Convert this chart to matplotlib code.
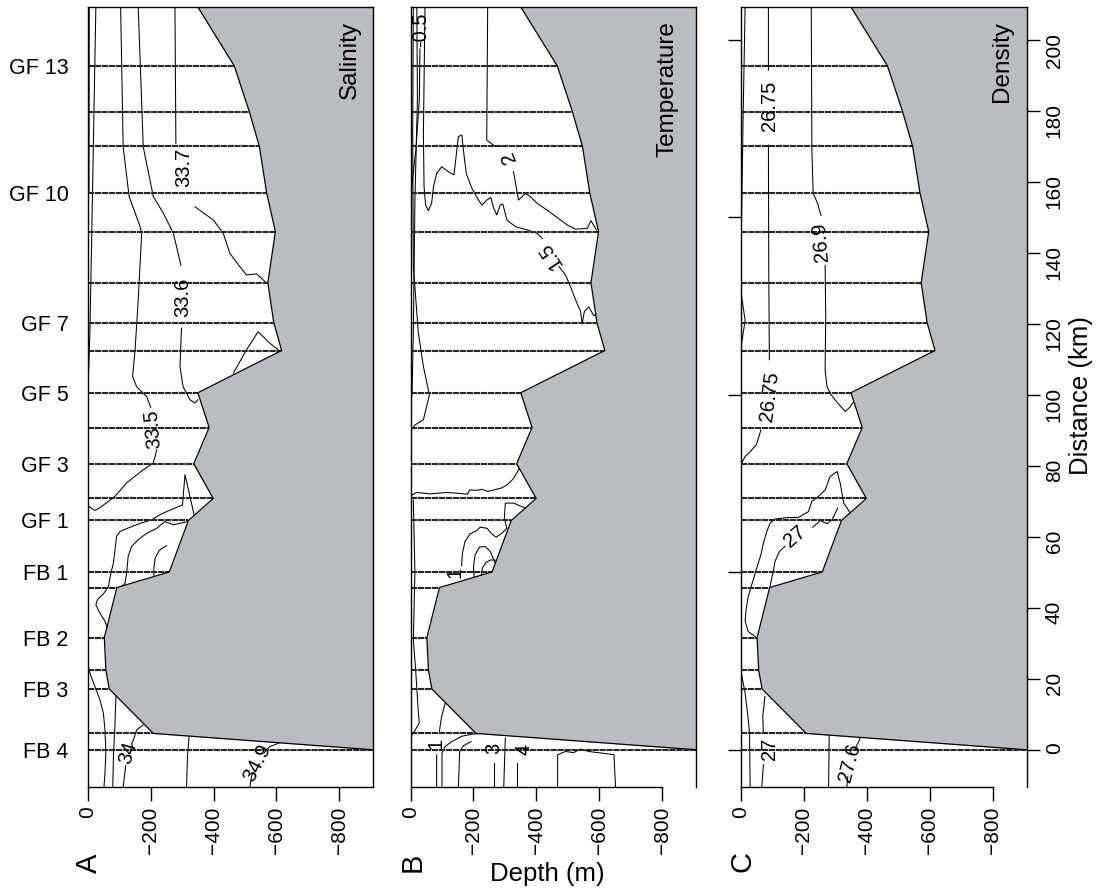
import numpy as np
import matplotlib.pyplot as plt

plt.rcParams['font.family'] = ['Liberation Sans', 'DejaVu Sans']
nan = np.nan

# bottom profile along the section (distance km, depth m)
bathy_dist = [209.3, 192.7, 179.8, 170.0, 157.0, 146.0, 131.6, 120.3, 112.5, 100.6,
              90.8, 80.6, 70.8, 64.6, 50.1, 45.7, 31.6, 22.4, 17.1, 4.6, 0.0]
bathy_depth = [-350, -466, -514, -546, -569, -597, -573, -592, -617, -350,
               -386, -337, -399, -320, -259, -92, -52, -57, -68, -208, -907]
stations = bathy_dist[1:]

station_names = ['GF 13', 'GF 10', 'GF 7', 'GF 5', 'GF 3', 'GF 1', 'FB 1', 'FB 2', 'FB 3', 'FB 4']
station_name_dist = [192.7, 157.0, 120.3, 100.6, 80.6, 64.6, 50.1, 31.6, 17.1, 0.0]

depth_ticks = [0, -200, -400, -600, -800]
dist_ticks = list(range(0, 201, 20))
dist_ticks_left = [0, 50, 100, 150, 200]

# ---- salinity isolines (depth, distance) ----
sal_surf_x = [-25, -12, -6, -1]
sal_surf_y = [209.2, 145.5, 117.4, 104.2]
sal_edge_x = [-4, -3]
sal_edge_y = [209.3, 157.0]
sal_335_x = [-104, -112, -131, -166, -171, -160, -150, -142, -155, -187, -200, nan,
             -219, -208, -176, -123, -86, -38, -22, -4, 0]
sal_335_y = [209.3, 169.9, 155.9, 147.4, 145.6, 126.8, 112.7, 105.2, 102.3, 99.5, 96.5, nan,
             84.5, 80.8, 78.9, 75.2, 71.4, 68.2, 67.4, 68.5, 69.0]
sal_336_x = [-160, -176, -208, -240, -272, -282, -296, nan, -298, -293, -303, -325, -341, -350]
sal_336_y = [209.3, 169.9, 155.9, 151.2, 145.5, 141.8, 136.5, nan, 118.8, 108.0, 102.3, 98.6, 97.7, 98.6]
sal_337_x = [-277, -280, nan, -341, -399, -431, -452, -484, -505, -537, -558, -569]
sal_337_y = [209.3, 170.9, nan, 153.0, 149.3, 145.5, 139.9, 136.1, 133.8, 134.1, 132.4, 131.5]
sal_gf7_x = [-463, -505, -542, -558, -579, -606]
sal_gf7_y = [106.1, 112.7, 117.8, 116.4, 114.6, 112.7]
sal_gf2_x = [-338, -309, -301, -277, -250, -229, -203, -166, -134, -102, -91, -86, -81,
             -73, -65, -49, -30, -25, -38, -54, -62]
sal_gf2_y = [66.2, 77.5, 69.0, 68.1, 67.1, 66.2, 64.8, 63.8, 62.7, 61.5, 60.1, 56.3, 52.6,
             49.8, 46.0, 43.9, 42.3, 40.8, 38.5, 36.2, 34.3]
sal_gf1_x = [-318, -272, -245, -219, -187, -160, -139, -128, -123, -118, -102]
sal_gf1_y = [64.3, 63.4, 64.3, 62.4, 61.0, 59.2, 57.3, 54.5, 49.8, 46.9, 45.5]
sal_fb1_x = [-250, -227, -214, -210, -210]
sal_fb1_y = [57.5, 56.2, 54.0, 51.2, 48.8]
sal_fb3_x = [-1, -6, -22, -38, -49, -54, -57, -54, -51]
sal_fb3_y = [23.5, 21.6, 17.8, 14.1, 10.3, 5.6, -0.5, -6.6, -10.5]
sal_fb4_x = [-89, -86, -81, -79]
sal_fb4_y = [15.0, 7.5, -1.9, -10.5]
sal_34_x = [-176, -155, -147, -138, nan, -120, -118, -112]
sal_34_y = [7.0, 5.6, 3.3, 1.5, nan, -4.5, -6.1, -10.5]
sal_deep_x = [-322, -317, -314]
sal_deep_y = [3.8, -1.9, -10.5]
sal_349_x = [-611, -579, -569, -560, nan, -525, -521, -516]
sal_349_y = [1.95, 0.9, 0.0, -1.0, nan, -6.5, -7.5, -10.5]

sal_labels = ['33.7', '33.6', '33.5', '34', '34.9']
sal_label_x = [-306, -302, -206, -126, -539]
sal_label_y = [164.2, 127.6, 90.5, -0.9, -3.6]
sal_label_rot = [90, 90, 95, 74, 63]

# ---- temperature isolines ----
tmp_2_x = [-245, -242, -269, -290, nan, -327, -343, -365, -380, -402, -433, -476, -497,
           -524, -561, -573, -590]
tmp_2_y = [209.3, 171.8, 170.0, 170.0, nan, 162.9, 154.9, 156.8, 155.9, 154.0, 152.1, 149.3,
           147.9, 146.7, 146.9, 149.1, 146.5]
tmp_15_x = [-46, -41, -43, -48, -57, -67, -73, -83, -99, -120, -138, -152, -163, -168, -177,
            -195, -216, -227, -242, -255, -264, -274, -285, -293, -306, -333, -370, -402, -418,
            nan, -471, -492, -508, -524, -540, -545, -552, -566, -582, -590]
tmp_15_y = [209.3, 173.7, 158.7, 153.5, 151.9, 154.0, 158.7, 162.4, 164.3, 162.9, 162.0,
            172.8, 173.2, 169.0, 162.4, 158.2, 154.9, 153.5, 154.9, 155.6, 152.6, 150.7,
            153.5, 153.8, 149.3, 147.4, 146.5, 145.5, 144.1,
            nan, 136.2, 133.8, 130.5, 126.8, 123.5, 120.0, 123.5, 124.8, 122.3, 122.8]
tmp_s1_x = [-9, -7, -9, -25, -41, -60, -41, -14, -2]
tmp_s1_y = [209.3, 173.7, 136.2, 117.4, 108.0, 100.0, 93.0, 91.5, 90.1]
tmp_s2_x = [-20, -22, -14, -9, -5, 0]
tmp_s2_y = [209.3, 183.1, 154.9, 117.4, 100.5, 95.8]
tmp_s3_x = [-30, -28, -17, -4, 0]
tmp_s3_y = [197.5, 183.1, 169.0, 158.7, 153.0]
tmp_gf2_x = [-4, -20, -62, -115, -147, -181, -187, -211, -227, -245, -264, -287, -306,
             -325, -340, -345]
tmp_gf2_y = [71.8, 72.5, 72.1, 72.5, 72.3, 72.0, 73.2, 73.1, 73.4, 72.8, 73.2, 73.7, 74.6,
             76.2, 78.4, 79.3]
tmp_s4_x = [-9, -14, -9, -17, -25, -28, -9, -2]
tmp_s4_y = [70.4, 49.8, 31.0, 21.6, 10.3, 7.5, 4.7, 3.8]
tmp_1_x = [-365, -327, -301, -298, -306, -290, -272, -258, -243, -221, -211, -189, -173,
           -165, -162]
tmp_1_y = [68.1, 69.5, 69.5, 65.3, 62.4, 61.0, 59.9, 60.8, 62.4, 62.7, 61.8, 60.8, 58.7,
           55.4, 51.8]
tmp_fb1a_x = [-269, -253, -237, -219, -205, -200, -202]
tmp_fb1a_y = [52.6, 55.9, 57.3, 57.1, 54.9, 51.6, 48.6]
tmp_fb1b_x = [-271, -255, -240, -228, -225]
tmp_fb1b_y = [53.4, 53.5, 52.8, 51.2, 49.2]
tmp_fb4a_x = [-110, -99, -94, -92, nan, -83, -83]
tmp_fb4a_y = [13.1, 9.4, 6.6, 5.2, nan, -1.4, -10.5]
tmp_fb4b_x = [-215, -195, -163, -131, -110, -100, -100]
tmp_fb4b_y = [4.5, 4.4, 3.8, 2.3, 0.9, -0.9, -10.5]
tmp_fb4c_x = [-192, -168, -156, -152]
tmp_fb4c_y = [2.3, 1.1, -0.5, -10.5]
tmp_3_x = [-266, -266]
tmp_3_y = [-3.8, -10.5]
tmp_fb4d_x = [-301, -296]
tmp_fb4d_y = [3.3, -10.5]
tmp_4_x = [-338, -338]
tmp_4_y = [-3.8, -10.5]
tmp_box_x = [-467, -467, -492, -518, -540, -566, -603, -646, -651]
tmp_box_y = [-10.5, -1.4, -0.5, -0.8, 0.2, -0.5, -0.9, -1.4, -10.5]

tmp_labels = ['-0.5', '2', '1.5', '1', '1', '3', '4']
tmp_label_x = [-33, -311, -444, -142, -80, -264, -359]
tmp_label_y = [202.8, 167.1, 139.4, 50.1, 1.7, 0.5, 0.0]
tmp_label_rot = [90, 112, 123, 90, 90, 90, 90]

# ---- density isolines ----
den_s1_x = [-14, -8, 0]
den_s1_y = [209.3, 180.0, 133.2]
den_s2_x = [0, -14, 0]
den_s2_y = [129.6, 121.0, 112.7]
den_2675_x = [-88, -88, nan, -88, -89, -91, nan, -64, -50, -30, -14, -3, 0]
den_2675_y = [209.3, 191.5, nan, 170.4, 136.2, 109.9, nan, 90.1, 86.0, 84.0, 82.6, 80.8, 80.3]
den_269_x = [-224, -226, -230, -244, -255, nan, -268, -270, -268, -274, -287, -308, -332,
             -346, -359]
den_269_y = [209.3, 169.0, 156.8, 154.0, 150.5, nan, 136.5, 122.1, 107.0, 102.3, 100.0,
             97.7, 95.3, 96.5, 98.1]
den_27a_x = [-348, -327, -316, -306, -284, -268, -247, -226, -215, -184, -146, -109, -93,
             -83, -72, -64, -51, -38, -24, -17, -14, -24, -46]
den_27a_y = [66.7, 69.5, 75.1, 78.4, 77.0, 73.2, 71.4, 70.0, 67.1, 65.5, 65.4, 65.0, 63.8,
             61.5, 58.2, 54.9, 51.2, 47.4, 43.2, 39.4, 36.2, 33.3, 31.9]
den_27b_x = [-308, -290, -274, -253, -229, nan, -141, -123, -109, -102, -93]
den_27b_y = [68.1, 64.8, 63.7, 64.6, 62.7, nan, 57.3, 55.9, 53.1, 49.8, 46.0]
den_fb3_x = [0, -14, -24, -28, -30]
den_fb3_y = [22.5, 16.0, 8.5, 4.7, -10.5]
den_27c_x = [-77, -70, -72, nan, -72, -67]
den_27c_y = [15.0, 9.4, 4.7, nan, -4.2, -10.5]
den_276a_x = [-281, -279]
den_276a_y = [4.1, -10.5]
den_276b_x = [-380, -375, -364, nan, -340, -337]
den_276b_y = [3.45, 2.3, 0.5, nan, -7.5, -10.5]

den_labels = ['26.75', '26.75', '26.9', '27', '27', '27.6']
den_label_x = [-91, -93, -255, -173, -91, -346]
den_label_y = [181.4, 99.5, 143.0, 60.1, 0.2, -3.6]
den_label_rot = [90, 83, 95, 40, 90, 75]

sal_lines = [(sal_surf_x, sal_surf_y), (sal_edge_x, sal_edge_y), (sal_335_x, sal_335_y),
             (sal_336_x, sal_336_y), (sal_337_x, sal_337_y), (sal_gf7_x, sal_gf7_y),
             (sal_gf2_x, sal_gf2_y), (sal_gf1_x, sal_gf1_y), (sal_fb1_x, sal_fb1_y),
             (sal_fb3_x, sal_fb3_y), (sal_fb4_x, sal_fb4_y), (sal_34_x, sal_34_y),
             (sal_deep_x, sal_deep_y), (sal_349_x, sal_349_y)]
tmp_lines = [(tmp_2_x, tmp_2_y), (tmp_15_x, tmp_15_y), (tmp_s1_x, tmp_s1_y),
             (tmp_s2_x, tmp_s2_y), (tmp_s3_x, tmp_s3_y), (tmp_gf2_x, tmp_gf2_y),
             (tmp_s4_x, tmp_s4_y), (tmp_1_x, tmp_1_y), (tmp_fb1a_x, tmp_fb1a_y),
             (tmp_fb1b_x, tmp_fb1b_y), (tmp_fb4a_x, tmp_fb4a_y), (tmp_fb4b_x, tmp_fb4b_y),
             (tmp_fb4c_x, tmp_fb4c_y), (tmp_3_x, tmp_3_y), (tmp_fb4d_x, tmp_fb4d_y),
             (tmp_4_x, tmp_4_y), (tmp_box_x, tmp_box_y)]
den_lines = [(den_s1_x, den_s1_y), (den_s2_x, den_s2_y), (den_2675_x, den_2675_y),
             (den_269_x, den_269_y), (den_27a_x, den_27a_y), (den_27b_x, den_27b_y),
             (den_fb3_x, den_fb3_y), (den_27c_x, den_27c_y), (den_276a_x, den_276a_y),
             (den_276b_x, den_276b_y)]

GREY = '#bbbcc0'
XMAX = -908
YLIM = (-10.5, 209.3)

fig = plt.figure(figsize=(10.97, 8.92), dpi=100)
W, H = 1097.0, 892.0
bottom, height = 105 / H, 780 / H
lefts = [88 / W, 410.5 / W, 740.7 / W]
widths = [285 / W, 286 / W, 286 / W]

panels = [
    ('Salinity', sal_lines, sal_labels, sal_label_x, sal_label_y, sal_label_rot, 0.918),
    ('Temperature', tmp_lines, tmp_labels, tmp_label_x, tmp_label_y, tmp_label_rot, 0.90),
    ('Density', den_lines, den_labels, den_label_x, den_label_y, den_label_rot, 0.914),
]

st_depth = np.interp(stations, bathy_dist[::-1], bathy_depth[::-1])

for i, (title, lines, labs, lx, ly, lrot, tx) in enumerate(panels):
    ax = fig.add_axes([lefts[i], bottom, widths[i], height])
    ax.set_xlim(0, XMAX)
    ax.set_ylim(*YLIM)

    for xs, ys in lines:
        ax.plot(xs, ys, color='k', lw=0.75, zorder=2)
    for t, x, y, r in zip(labs, lx, ly, lrot):
        ax.text(x, y, t, rotation=r, ha='center', va='center', fontsize=14.5,
                rotation_mode='anchor', zorder=4)

    # CTD station casts
    ax.hlines(stations, 0, st_depth, colors='#262626', lw=1.5,
              linestyles=[(0, (3.0, 0.35))], zorder=3)

    ax.fill_betweenx(bathy_dist, bathy_depth, XMAX, color=GREY, lw=0, zorder=5)
    ax.plot(bathy_depth, bathy_dist, color='k', lw=0.9, zorder=6)

    ax.text(tx, 0.982, title, transform=ax.transAxes, rotation=90, ha='center',
            va='top', fontsize=17.5, zorder=7)

    for s in ax.spines.values():
        s.set_linewidth(1.0)
        s.set_zorder(8)
    if i > 0:
        ax.spines['bottom'].set_bounds(-800, 0)

    ax.set_xticks(depth_ticks)
    ax.tick_params(axis='x', direction='out', length=10, width=1, pad=4,
                   labelsize=15, labelrotation=90)

    if i == 0:
        ax.set_yticks(station_name_dist, labels=station_names)
        ax.tick_params(axis='y', length=0, pad=14, labelsize=15.5)
    elif i == 1:
        ax.set_yticks([])
    else:
        ax.set_yticks(dist_ticks_left, labels=[])
        ax.tick_params(axis='y', direction='out', length=9.5, width=1)
        ax2 = ax.twinx()
        ax2.set_ylim(*YLIM)
        ax2.set_yticks(dist_ticks)
        ax2.tick_params(axis='y', direction='out', length=9.5, width=1, pad=3.5,
                        labelsize=15, labelrotation=90)
        for s in ax2.spines.values():
            s.set_visible(False)

fig.text(89 / W, 1 - 863 / H, 'A', rotation=90, ha='center', va='center', fontsize=21)
fig.text(413 / W, 1 - 862 / H, 'B', rotation=90, ha='center', va='center', fontsize=21)
fig.text(743 / W, 1 - 862 / H, 'C', rotation=90, ha='center', va='center', fontsize=21)
fig.text(547 / W, 1 - 874 / H, 'Depth (m)', ha='center', va='center', fontsize=18.5)
fig.text(1081 / W, 1 - 396 / H, 'Distance (km)', rotation=90, ha='center', va='center',
         fontsize=18.5)

fig.savefig('out.png', dpi=100)
